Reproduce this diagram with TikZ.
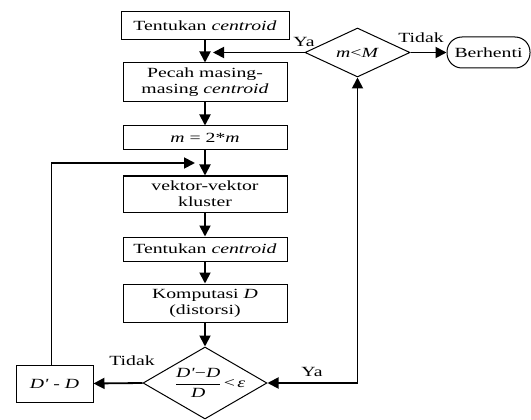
\documentclass[tikz,border=0pt]{standalone}
\usepackage{fontspec}
\setmainfont[FakeStretch=1.41,Ligatures=TeXOff]{Liberation Serif}
\usetikzlibrary{arrows.meta,shapes.geometric}
\tikzset{
  every node/.style={font=\fontsize{14}{16}\selectfont},
  box/.style={draw, line width=1pt, inner sep=0pt, align=center, minimum width=164pt},
  dia/.style={draw, diamond, line width=1pt, inner sep=0pt},
  conn/.style={line width=1.8pt, -{Triangle[length=11pt,width=11pt]}},
  biconn/.style={line width=1.8pt, {Triangle[length=11pt,width=11pt]}-{Triangle[length=11pt,width=11pt]}},
  lbl/.style={inner sep=0pt}
}
\begin{document}
\begin{tikzpicture}[x=1pt,y=-1pt]
\useasboundingbox (0,0) rectangle (531,420);
% boxes
\node[box, minimum width=168pt, minimum height=28pt] (b1) at (205,26) {Tentukan \textit{centroid}};
\node[box, minimum height=39pt] (b2) at (205,82.5) {Pecah masing-\\masing \textit{centroid}};
\node[box, minimum height=24pt] (b3) at (205,138) {\textit{m} = 2*\textit{m}};
\node[box, minimum height=36pt] (b4) at (205,194) {vektor-vektor\\kluster};
\node[box, minimum height=24pt] (b5) at (205,249) {Tentukan \textit{centroid}};
\node[box, minimum height=38pt] (b6) at (205,303) {Komputasi \textit{D}\\(distorsi)};
\node[box, minimum width=77pt, minimum height=37pt] (dd) at (54.5,383.5) {\textit{D'} - \textit{D}};
% decisions
\node[dia, minimum width=124pt, minimum height=72pt] (d2) at (205,383) {};
\node[lbl] (d2t) at (210,383) {$\displaystyle\frac{\mbox{\textit{D'}−\textit{D}}}{\mbox{\textit{D}}}$\,<\,\textit{ε}};
\node[dia, minimum width=105pt, minimum height=49pt] (d1) at (357.5,52.5) {};
\node[lbl] (d1t) at (357.5,52.5) {\textit{m}<\textit{M}};
\node[draw, line width=1pt, rounded corners=15pt, minimum width=83pt, minimum height=31pt, inner sep=0pt] (stop) at (488.5,52.5) {Berhenti};
% labels
\node[lbl] (t1) at (421,38) {Tidak};
\node[lbl] (y1) at (304,42) {Ya};
\node[lbl] (t2) at (132,361) {Tidak};
\node[lbl] (y2) at (312,372) {Ya};
% connectors
\coordinate (yaend) at (213,52.5);
\coordinate (loopend) at (195,163);
\draw[conn] (b1.south) -- (b2.north);
\draw[conn] (b2.south) -- (b3.north);
\draw[conn] (b3.south) -- (b4.north);
\draw[conn] (b4.south) -- (b5.north);
\draw[conn] (b5.south) -- (b6.north);
\draw[conn] (b6.south) -- (d2.north);
\draw[conn] (d2.west) -- (dd.east);
\draw[conn] ([xshift=-3pt]dd.north) |- (loopend);
\draw[biconn] (d2.east) -| (d1.south);
\draw[conn] (d1.west) -- (yaend);
\draw[conn] (d1.east) -- (stop.west);
\end{tikzpicture}
\end{document}
